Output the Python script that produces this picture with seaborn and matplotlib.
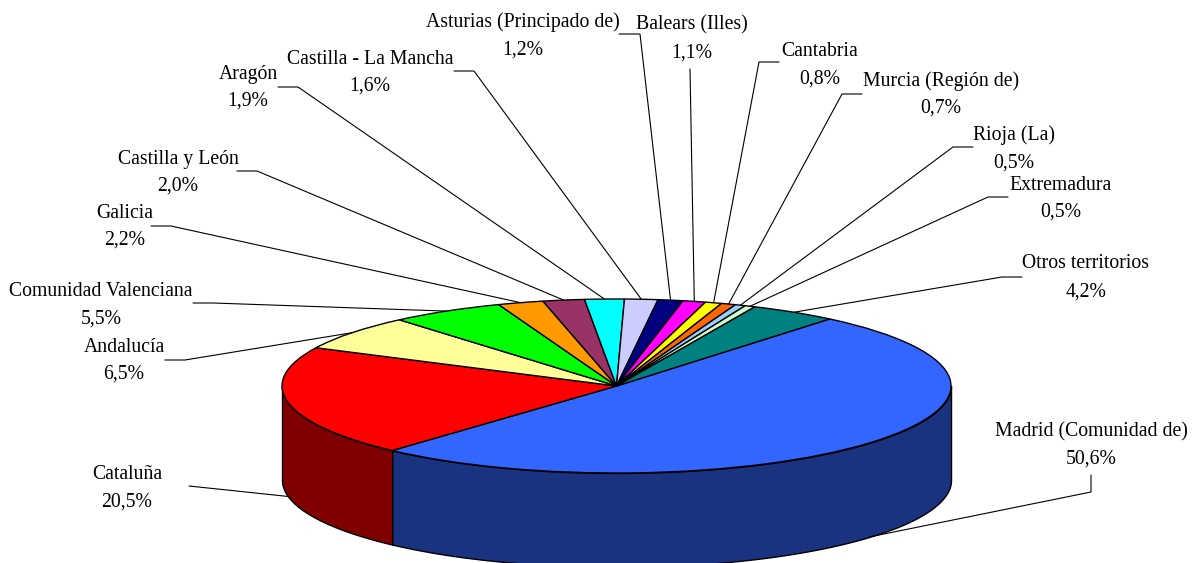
import numpy as np
import matplotlib
matplotlib.use("Agg")
import matplotlib.pyplot as plt
from matplotlib.colors import to_rgb
import seaborn as sns

# ---- data (clockwise from the top right) ----
territories = ["Madrid (Comunidad de)", "Cataluña", "Andalucía", "Comunidad Valenciana",
               "Galicia", "Castilla y León", "Aragón", "Castilla - La Mancha",
               "Asturias (Principado de)", "Balears (Illes)",
               "Cantabria", "Murcia (Región de)", "Rioja (La)", "Extremadura", "Otros territorios"]
shares = [50.6, 20.5, 6.5, 5.5, 2.2, 2.0, 1.9, 1.6, 1.2, 1.1, 0.8, 0.7, 0.5, 0.5, 4.2]
share_labels = ["50,6%", "20,5%", "6,5%", "5,5%", "2,2%", "2,0%", "1,9%", "1,6%",
                "1,2%", "1,1%", "0,8%", "0,7%", "0,5%", "0,5%", "4,2%"]
slice_colors = ["#3366FF", "#FF0000", "#FFFF99", "#00FF00", "#FF9900", "#993366", "#00FFFF",
                "#CCCCFF", "#000080", "#FF00FF", "#FFFF00", "#FF6600", "#99CCFF", "#CCFFCC",
                "#008080"]

# ---- layout, in reference pixels ----
W, H = 1198, 563
CX, CY, RX, RY, DEPTH = 616.5, 386.0, 334.5, 87.0, 94.0
START = 50.4
# label centre x, first-line y, second-line y
label_pos = [(1091, 432, 459), (127, 474, 502), (124, 347, 374), (101, 291, 319),
             (125, 213, 240), (178, 159, 186), (248, 74, 101), (370, 59, 86),
             (523, 22, 50), (692, 25, 53), (820, 51, 79), (941, 81, 108),
             (1014, 135, 163), (1061, 186, 212), (1086, 264, 292)]
# leader path from the label to its elbow
leader_start = [(1091, 475, 1091, 492), (189, 486, 189, 486), (165, 360, 185, 360),
                (193, 303, 213, 303), (151, 226, 171, 226), (237, 171, 257, 171),
                (278, 87, 298, 87), (454, 71, 474, 71), (619, 34, 640, 34),
                (690, 69, 690, 69), (779, 62, 759, 62), (862, 94, 842, 94),
                (973, 147, 953, 147), (1008, 197, 988, 197), (1022, 277, 1002, 277)]

sns.set_theme(style="white")
plt.rcParams["font.family"] = ["Liberation Serif", "DejaVu Serif"]
palette = sns.color_palette(slice_colors)

fig = plt.figure(figsize=(W / 100, H / 100), dpi=100, facecolor="white")
ax = fig.add_axes([0, 0, 1, 1])

depth = DEPTH / RY
from_px = lambda px, py: ((px - CX) / RX, (CY - py) / RY)

# side walls
fractions = np.array(shares) / np.sum(shares)
ends = START - 360 * np.cumsum(fractions)
begins = np.r_[START, ends[:-1]]
for b, e, c in zip(begins, ends, palette):
    dark = tuple(v * 0.5 for v in to_rgb(c))
    lo, hi = max(e, -180.0), min(b, 0.0)
    if hi > lo:
        t = np.radians(np.linspace(lo, hi, 120))
        ax.fill_between(np.cos(t), np.sin(t), np.sin(t) - depth, facecolor=dark,
                        edgecolor="black", linewidth=1.0, zorder=1)

# top face
ax.pie(shares, colors=palette, startangle=START, counterclock=False, radius=1,
       wedgeprops=dict(edgecolor="black", linewidth=1.0, zorder=2), frame=False)
ax.set_aspect("auto")
ax.set_xlim((0 - CX) / RX, (W - CX) / RX)
ax.set_ylim((CY - H) / RY, CY / RY)
ax.axis("off")

# labels and leaders
mids = np.radians((begins + ends) / 2)
for name, val, (lx, y1, y2), (sx, sy, ex, ey), m in zip(territories, share_labels, label_pos,
                                                        leader_start, mids):
    end_x, end_y = np.cos(m), np.sin(m)
    if end_y < 0:
        end_y -= depth
    p0, p1 = from_px(sx, sy), from_px(ex, ey)
    ax.plot([p0[0], p1[0], end_x], [p0[1], p1[1], end_y], color="black", lw=0.8, zorder=3,
            solid_joinstyle="miter")
    for txt, y in ((name, y1), (val, y2)):
        tx, ty = from_px(lx, y)
        ax.text(tx, ty, txt, ha="center", va="center", fontsize=14.2, color="black", zorder=4)

fig.savefig("out.png", dpi=100, facecolor="white")
